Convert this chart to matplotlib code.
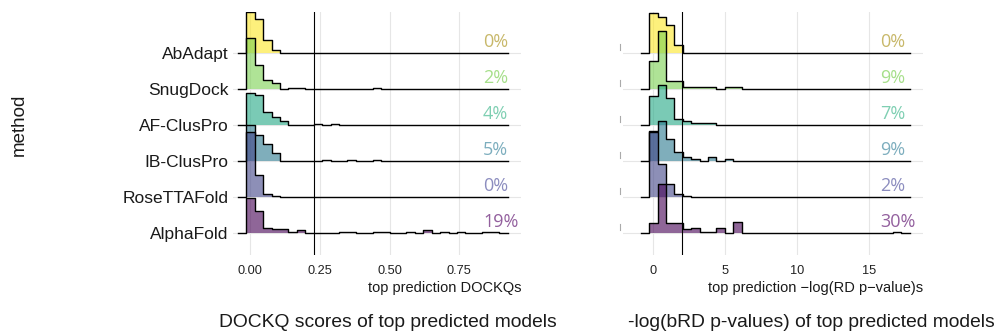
import numpy as np
import matplotlib
matplotlib.use('Agg')
import matplotlib.pyplot as plt

plt.rcParams['font.family'] = ['Liberation Sans', 'DejaVu Sans']

# ---------------- data ----------------
methods = ['AlphaFold', 'RoseTTAFold', 'IB-ClusPro', 'AF-ClusPro', 'SnugDock', 'AbAdapt']  # bottom -> top
fill_colors = ['#440154', '#414487', '#2A788E', '#22A884', '#7AD151', '#FDE725']
label_colors = ['#93609e', '#8c8dbf', '#7daebe', '#7fcfb2', '#a6df8a', '#c8b86a']

# histogram of top-prediction DOCKQ (counts per bin)
dockq_bin_start = -0.0131
dockq_bin_width = 0.0302
dockq_counts = {
    'AlphaFold':   [20.5, 13, 3, 2.5, 2.5, 1, 2, 0, 0, 0, 0, 1, 1, 0, 0, 1, 1, 0, 0, 1, 0, 2, 0, 1, 0, 1, 0, 0, 1, 1],
    'RoseTTAFold': [38, 13, 2, 1],
    'IB-ClusPro':  [21, 15.5, 10, 5, 0, 0, 0, 0, 0, 1, 0, 0, 1, 0, 0, 1],
    'AF-ClusPro':  [19, 18, 8, 5, 2.5, 0, 0, 0, 1, 0, 1],
    'SnugDock':    [30, 14, 5.5, 3.5, 0, 1, 1, 0, 0, 0, 0, 0, 0, 0, 0, 1],
    'AbAdapt':     [24, 20, 8, 2],
}
dockq_pct = ['19%', '0%', '5%', '4%', '2%', '0%']
dockq_threshold = 0.23
dockq_ticks = [0.0, 0.25, 0.50, 0.75]
dockq_ticklabels = ['0.00', '0.25', '0.50', '0.75']

# histogram of top-prediction -log(RD p-value)
pval_bin_start = -0.28
pval_bin_width = 0.583
pval_counts = {
    'AlphaFold':   [6, 29, 6, 6, 2.3, 3, 1, 1, 3, 0, 6.7, 0, 0, 0, 0, 0, 0, 0, 0, 0, 0, 0, 0, 0, 0, 0, 0, 0, 0, 1],
    'RoseTTAFold': [38, 19.5, 8, 1.8, 1],
    'IB-ClusPro':  [18, 23.5, 13, 5.5, 2.7, 1.3, 0, 2.3, 0, 1.2],
    'AF-ClusPro':  [17, 23.5, 16, 3.5, 2.5, 1.2, 1.2, 1.2],
    'SnugDock':    [16.5, 34, 5, 5, 1.3, 1.3, 1.3, 1.3, 0, 1.3, 1.3],
    'AbAdapt':     [23.5, 21.5, 16.5, 5],
}
pval_pct = ['30%', '2%', '9%', '7%', '9%', '0%']
pval_threshold = 2
pval_ticks = [0, 5, 10, 15]
pval_ticklabels = ['0', '5', '10', '15']

N_BINS = 30
COUNT_UNIT = 1.71 / 36.0   # ridge height per count (fraction of row spacing)

W, H = 1001, 336
fig = plt.figure(figsize=(W / 100, H / 100), dpi=100)

def px_rect(x0, x1, y0, y1):
    return [x0 / W, 1 - y1 / H, (x1 - x0) / W, (y1 - y0) / H]

axL = fig.add_axes(px_rect(233, 521, 12, 255))
axR = fig.add_axes(px_rect(623, 923, 12, 255))


def draw_panel(ax, counts, start, width, pct, threshold, ticks, ticklabels, xlim, label_x):
    nrow = len(methods)
    for i in range(nrow - 1, -1, -1):
        m = methods[i]
        c = np.zeros(N_BINS)
        vals = counts[m]
        c[:len(vals)] = vals
        h = np.concatenate([[0.0], c, [0.0]])
        edges = start + width * np.arange(-1, N_BINS + 2)
        y = i + h * COUNT_UNIT
        yy = np.append(y, y[-1])
        z = 2 + (nrow - i) * 2
        ax.fill_between(edges, i, yy, step='post', color=fill_colors[i], alpha=0.6,
                        lw=0, zorder=z)
        ax.step(edges, yy, where='post', color='black', lw=1.0, zorder=z + 1)
        ax.text(label_x, i + 0.18, pct[i], ha='left', va='baseline',
                color=label_colors[i], fontsize=13, family='Open Sans', zorder=30)
    ax.axvline(threshold, color='black', lw=0.8, zorder=25)
    ax.set_xlim(*xlim)
    ax.set_ylim(-0.603, 6.147)
    ax.set_xticks(ticks)
    ax.set_xticklabels(ticklabels, fontsize=9.2, color='#222222')
    ax.set_yticks(range(nrow))
    ax.grid(True, color='#e6e6e6', lw=0.8, zorder=0)
    ax.set_axisbelow(True)
    for s in ax.spines.values():
        s.set_visible(False)
    ax.tick_params(axis='both', length=0)
    ax.tick_params(axis='x', pad=7)


draw_panel(axL, dockq_counts, dockq_bin_start, dockq_bin_width, dockq_pct, dockq_threshold,
           dockq_ticks, dockq_ticklabels, ((233 - 250) / 279.07, (521 - 250) / 279.07),
           (483 - 250) / 279.07)
draw_panel(axR, pval_counts, pval_bin_start, pval_bin_width, pval_pct, pval_threshold,
           pval_ticks, pval_ticklabels, ((623 - 653.3) / 14.4, (923 - 653.3) / 14.4),
           (880 - 653.3) / 14.4)

axL.set_yticklabels(methods, fontsize=12.5, color='#1a1a1a')
axL.tick_params(axis='y', pad=3)
axR.set_yticklabels([''] * len(methods))

# tiny leftover marks left of the right panel
for i in range(len(methods)):
    axR.plot([-0.01, -0.01], [i + 0.08, i + 0.25], transform=axR.get_yaxis_transform(),
             color='#aaaaaa', lw=0.8, clip_on=False)

# axis titles
fig.text(521 / W, 1 - 291.7 / H, 'top prediction DOCKQs', ha='right', va='baseline',
         fontsize=10.5, color='#1a1a1a')
fig.text(923 / W, 1 - 291.7 / H, 'top prediction \u2212log(RD p\u2212value)s', ha='right',
         va='baseline', fontsize=10.5, color='#1a1a1a')
fig.text(19 / W, 1 - 125 / H, 'method', rotation=90, ha='center', va='center', fontsize=13.5,
         color='#1a1a1a')

# panel captions
fig.text(388 / W, 1 - 327 / H, 'DOCKQ scores of top predicted models', ha='center',
         va='baseline', fontsize=13.9, color='#1a1a1a')
fig.text(811 / W, 1 - 327 / H, '-log(bRD p-values) of top predicted models', ha='center',
         va='baseline', fontsize=13.9, color='#1a1a1a')

fig.savefig('out.png', dpi=100)
